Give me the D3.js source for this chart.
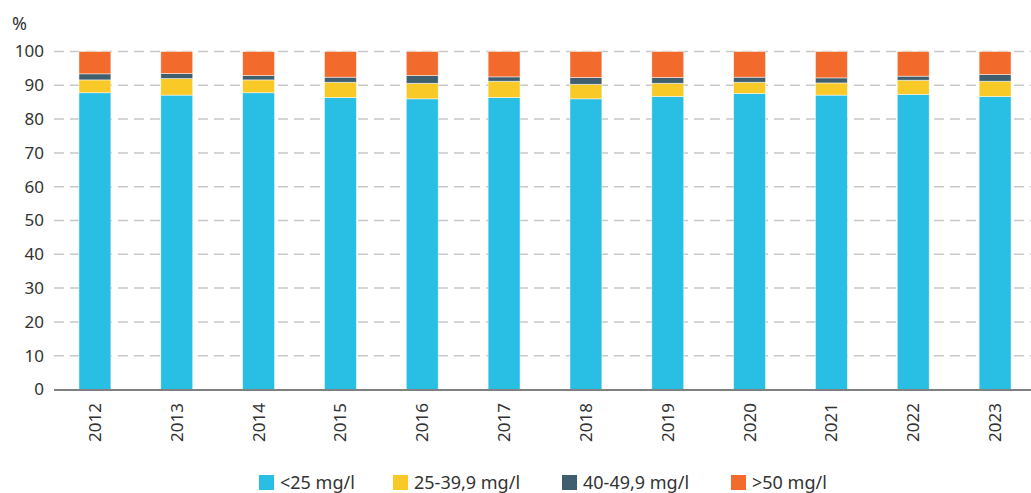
<!DOCTYPE html>
<html><head><meta charset="utf-8">
<script src="https://cdn.jsdelivr.net/npm/d3@7"></script>
<style>
body{margin:0;background:#fff;}
text{font-family:"Source Sans Pro","Noto Sans",sans-serif;fill:#333;}
</style></head>
<body><svg id="c" width="1031" height="493"></svg>
<script>
const years = ["2012","2013","2014","2015","2016","2017","2018","2019","2020","2021","2022","2023"];
const seriesNames = ["<25 mg/l","25-39,9 mg/l","40-49,9 mg/l",">50 mg/l"];
const seriesColors = ["#29bee3","#f9c928","#3f5f6f","#f26a2c"];
const below25 = [87.8,87.1,87.8,86.4,86.0,86.4,86.0,86.7,87.6,87.1,87.3,86.7];
const from25to39 = [3.8,4.9,3.8,4.5,4.6,4.8,4.3,3.9,3.3,3.6,4.2,4.5];
const from40to49 = [1.8,1.5,1.3,1.5,2.3,1.3,2.0,1.7,1.5,1.5,1.2,2.0];
const above50 = [6.6,6.5,7.1,7.6,7.1,7.5,7.7,7.7,7.6,7.8,7.3,6.8];
const yTicks = [0,10,20,30,40,50,60,70,80,90,100];

const keys = ["a","b","c","d"];
const rows = years.map((y,i)=>({year:y,a:below25[i],b:from25to39[i],c:from40to49[i],d:above50[i]}));
const stack = d3.stack().keys(keys)(rows);

const svg = d3.select("#c");
const x = d3.scaleBand().domain(years).range([54,1036]).paddingInner(0.61).paddingOuter(0.305);
const y = d3.scaleLinear().domain([0,100]).range([389.5,51.5]);

// grid
svg.append("g").selectAll("line").data(yTicks.filter(t=>t>0)).join("line")
  .attr("x1",54).attr("x2",1031).attr("y1",d=>y(d)).attr("y2",d=>y(d))
  .attr("stroke","#c8c8c8").attr("stroke-width",1.5).attr("stroke-dasharray","10,6");

// y axis labels
const ya = svg.append("g").attr("transform","translate(44,0)")
  .call(d3.axisLeft(y).tickValues(yTicks).tickSize(0).tickPadding(0));
ya.select(".domain").remove();
ya.selectAll("text").attr("font-size",17).style("font-family",'"Source Sans Pro","Noto Sans",sans-serif').attr("fill","#333");

svg.append("text").attr("x",12).attr("y",30).attr("font-size",18).text("%");

// bars
svg.append("g").selectAll("g").data(stack).join("g")
  .attr("fill",(d,i)=>seriesColors[i])
  .selectAll("rect").data(d=>d).join("rect")
  .attr("x",d=>x(d.data.year)).attr("width",x.bandwidth())
  .attr("y",d=>y(d[1])).attr("height",d=>y(d[0])-y(d[1]))
  .attr("stroke","rgba(255,255,255,0.6)").attr("stroke-width",0.8);

// x axis
const xa = svg.append("g").attr("transform","translate(0,390)")
  .call(d3.axisBottom(x).tickSize(0).tickPadding(0));
xa.select(".domain").attr("stroke","#808080").attr("stroke-width",2).attr("d","M54,0H1031");
xa.selectAll("text").attr("font-size",17).style("font-family",'"Source Sans Pro","Noto Sans",sans-serif').attr("fill","#333")
  .attr("transform","rotate(-90)").attr("text-anchor","end").attr("x",-13).attr("y",0).attr("dy","0.35em");

// legend
const legX = [259,393,562,731];
const lg = svg.append("g").selectAll("g").data(seriesNames).join("g")
  .attr("transform",(d,i)=>`translate(${legX[i]},475)`);
lg.append("rect").attr("width",15).attr("height",15).attr("fill",(d,i)=>seriesColors[i]);
lg.append("text").attr("x",21).attr("y",8).attr("dy","0.35em").attr("font-size",18).text(d=>d);
</script></body></html>
